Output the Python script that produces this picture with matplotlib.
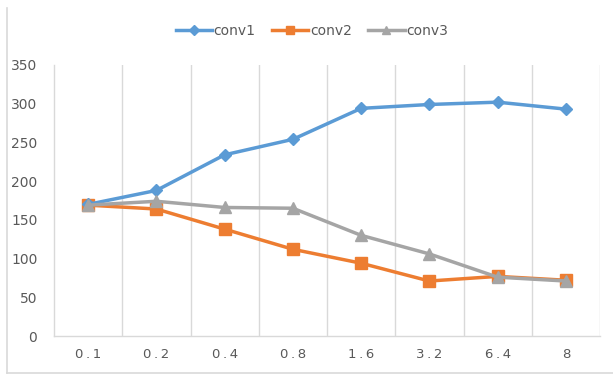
import matplotlib
matplotlib.use("Agg")
import matplotlib.pyplot as plt
from matplotlib.lines import Line2D

categories = ["0.1", "0.2", "0.4", "0.8", "1.6", "3.2", "6.4", "8"]
conv1 = [170, 188, 234, 254, 294, 299, 302, 293]
conv2 = [169, 164, 138, 112, 94, 71, 77, 72]
conv3 = [169, 174, 166, 165, 130, 106, 76, 71]
yticks = [0, 50, 100, 150, 200, 250, 300, 350]

W, H = 613, 375
fig = plt.figure(figsize=(W / 100, H / 100), dpi=100)
plt.rcParams['font.family'] = ['DejaVu Sans']

ax = fig.add_axes([54 / W, 1 - 336 / H, (600 - 54) / W, (336 - 65) / H])

x = list(range(len(categories)))
ax.plot(x, conv1, color="#5B9BD5", lw=2.5, marker="D", ms=6.5, label="conv1", zorder=4)
ax.plot(x, conv2, color="#ED7D31", lw=2.5, marker="s", ms=8, label="conv2", zorder=3)
ax.plot(x, conv3, color="#A5A5A5", lw=2.5, marker="^", ms=8, label="conv3", zorder=5)

ax.set_xlim(-0.5, len(categories) - 0.5)
ax.set_ylim(0, 350)
ax.set_yticks(yticks)
ax.set_yticklabels([str(v) for v in yticks], color="#595959", fontsize=10)
ax.set_xticks(x)
ax.set_xticklabels(["\u2009".join(c) for c in categories], color="#595959", fontsize=9.5)
ax.tick_params(axis="both", length=0)
ax.tick_params(axis="x", pad=9)
ax.tick_params(axis="y", pad=12)

# vertical gridlines between categories
for b in [i + 0.5 for i in range(len(categories))]:
    ax.axvline(b, color="#D9D9D9", lw=1, zorder=1)
for s in ["top", "right"]:
    ax.spines[s].set_visible(False)
for s in ["left", "bottom"]:
    ax.spines[s].set_color("#D9D9D9")
    ax.spines[s].set_linewidth(1)

handles = [
    Line2D([], [], color="#5B9BD5", lw=2.5, marker="D", ms=5),
    Line2D([], [], color="#ED7D31", lw=2.5, marker="s", ms=6),
    Line2D([], [], color="#A5A5A5", lw=2.5, marker="^", ms=6),
]
fig.legend(handles, ["conv1", "conv2", "conv3"], loc="center", bbox_to_anchor=(312 / W, 1 - 31 / H),
           ncol=3, frameon=False, fontsize=10, handlelength=2.6, handletextpad=0.1, columnspacing=1.2,
           labelcolor="#595959")

# outer chart frame (left and bottom visible)
fig.add_artist(Line2D([6.5 / W, 6.5 / W], [1 - 8 / H, 1 - 373 / H], color="#D9D9D9", lw=1.2, transform=fig.transFigure))
fig.add_artist(Line2D([6.5 / W, 1.0], [1 - 373 / H, 1 - 373 / H], color="#D9D9D9", lw=1.2, transform=fig.transFigure))

fig.savefig("out.png", dpi=100)
